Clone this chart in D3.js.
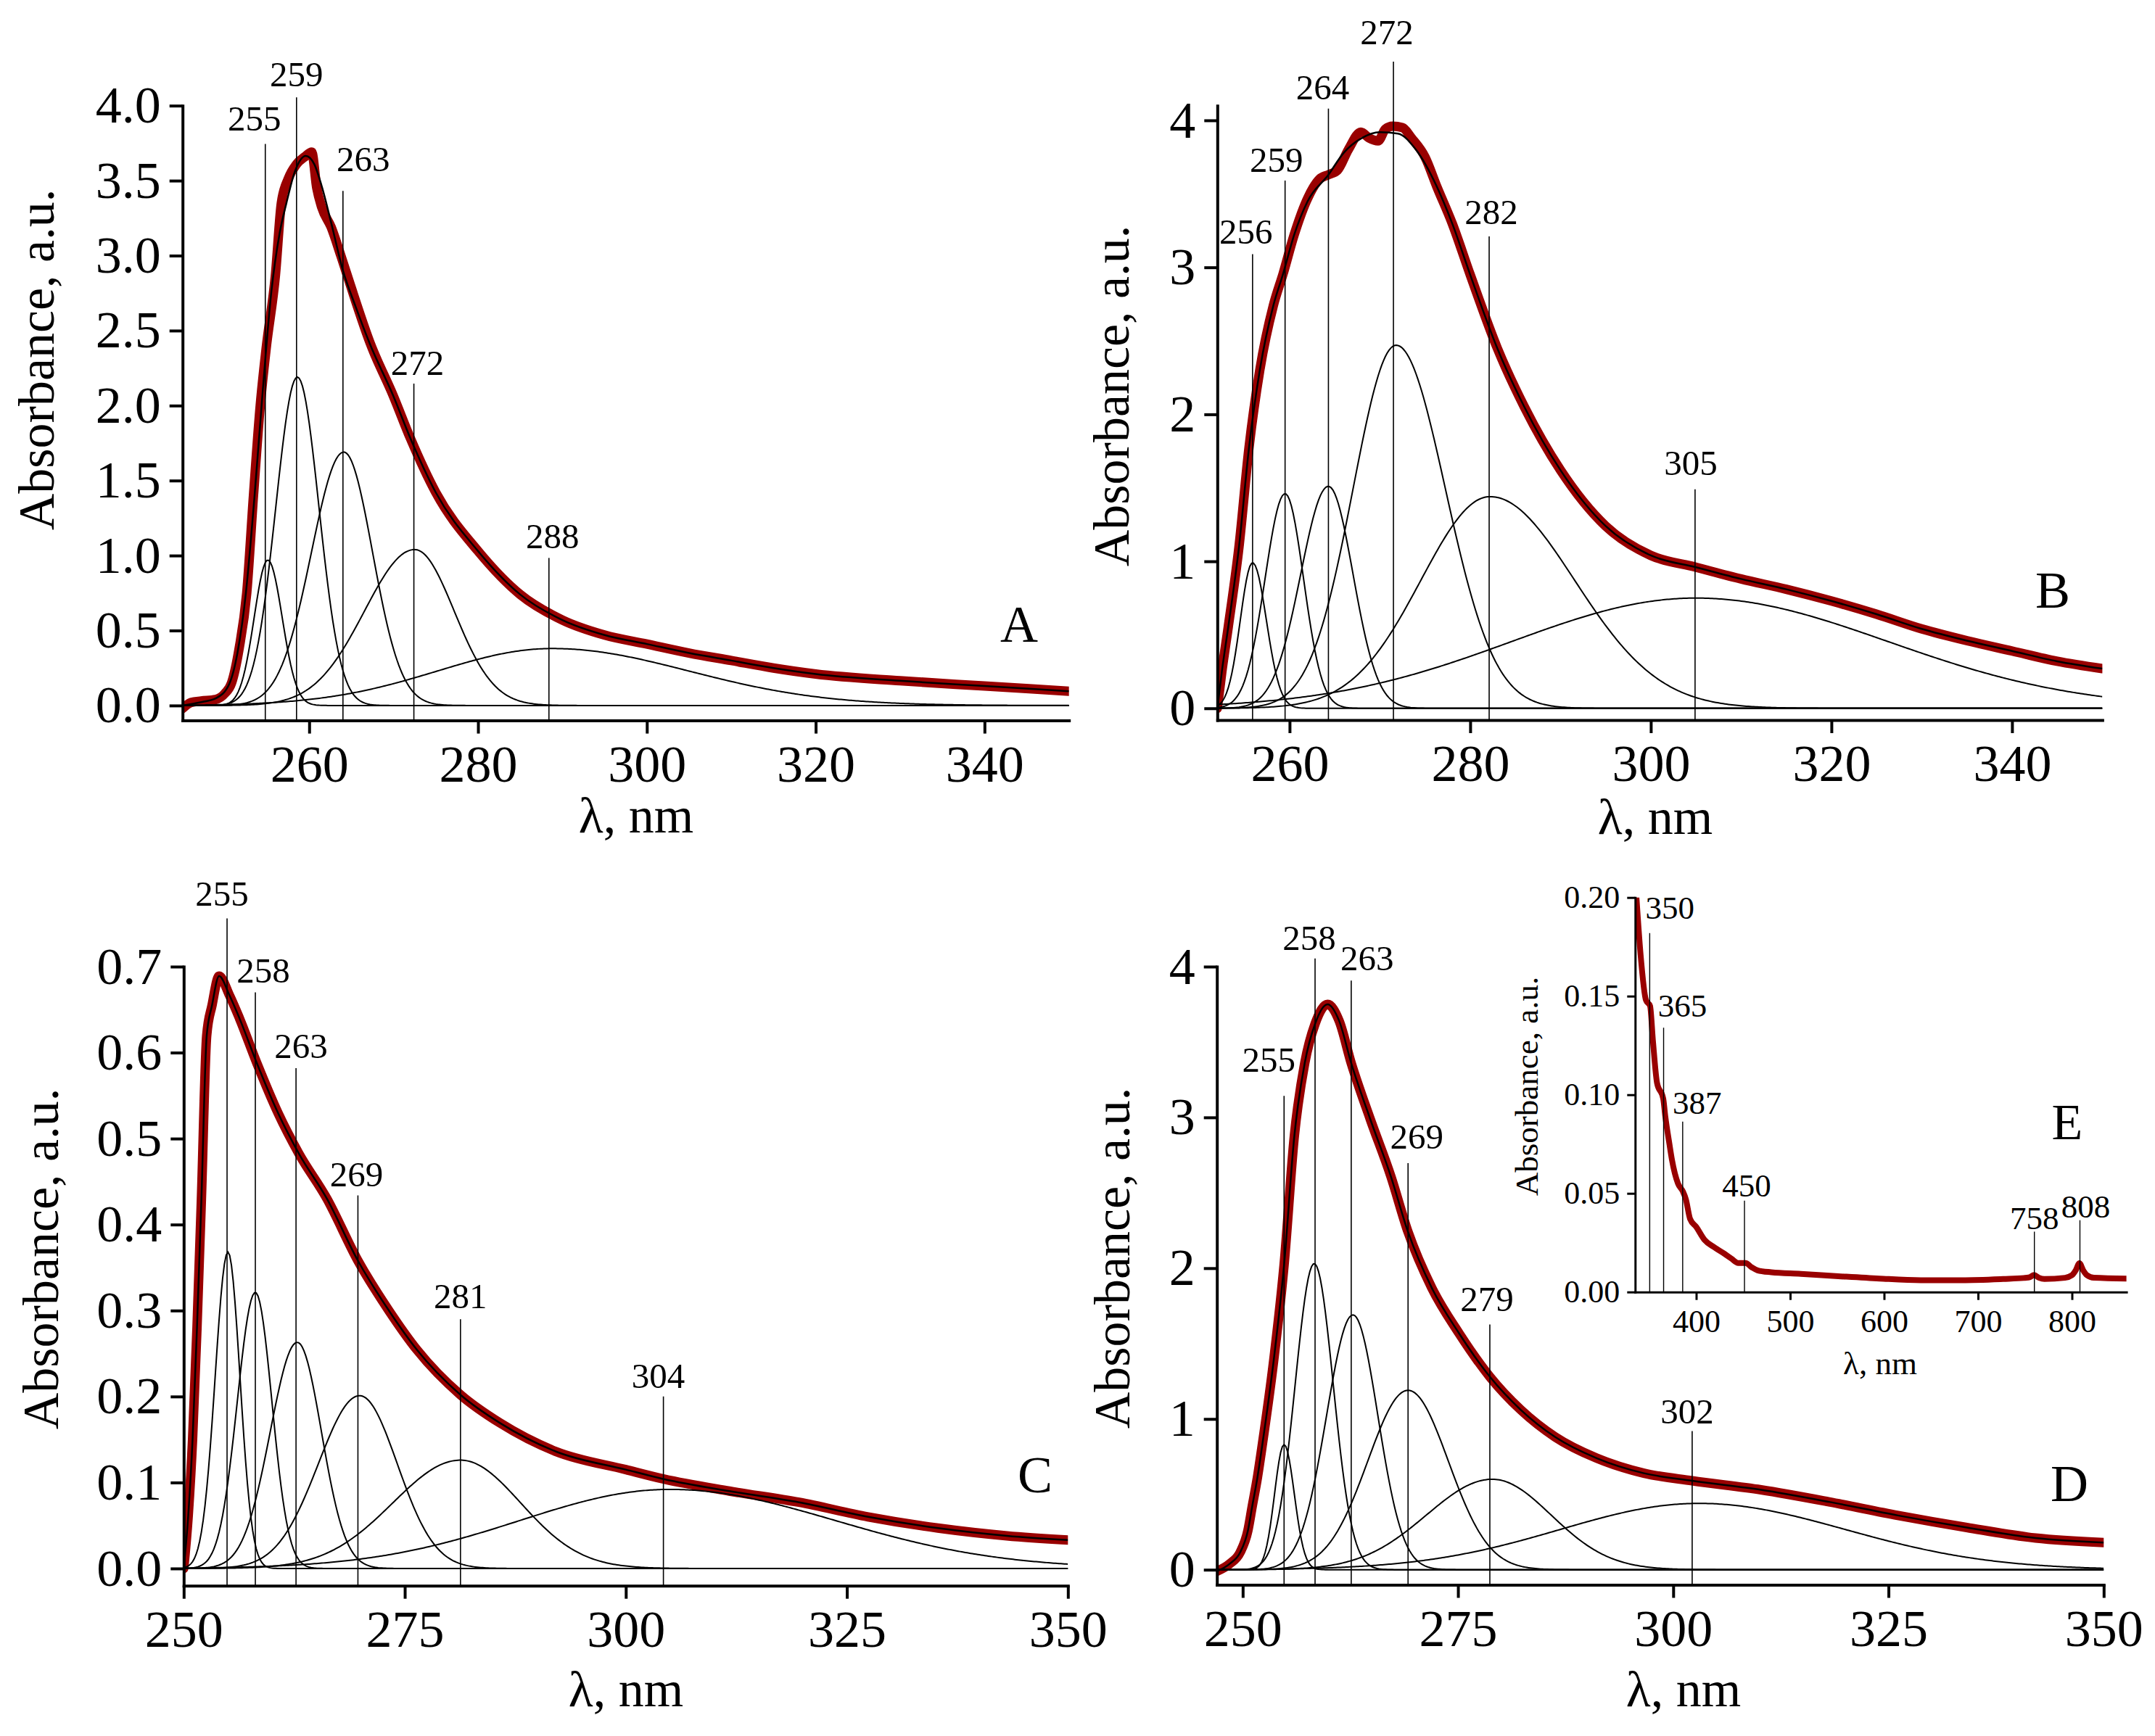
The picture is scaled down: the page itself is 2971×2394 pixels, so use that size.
<!DOCTYPE html>
<html lang="en">
<head>
<meta charset="utf-8">
<title>Absorbance deconvolution</title>
<script src="https://cdn.jsdelivr.net/npm/d3@7"></script>
<style>
  body { margin: 0; background: #fff; }
  svg { display: block; }
</style>
</head>
<body>
<script>

// ---------- data: panel A ----------
var aWl  = [245.0, 246.0, 247.2, 248.9, 250.0, 250.8, 251.7, 252.6, 253.4, 254.2, 254.9, 256.0, 256.7, 257.5, 258.5, 259.5, 260.3, 260.9, 261.5, 262.6, 263.75, 264.9, 267.2, 270, 272, 275, 280, 285, 290, 295, 300, 305, 310, 315, 320, 330, 340, 350];
var aAbs = [-0.02, 0.02, 0.03, 0.04, 0.08, 0.15, 0.38, 0.75, 1.40, 2.00, 2.38, 2.87, 3.35, 3.51, 3.61, 3.66, 3.69, 3.45, 3.32, 3.19, 3.00, 2.80, 2.42, 2.06, 1.78, 1.42, 1.03, 0.74, 0.57, 0.47, 0.41, 0.35, 0.30, 0.25, 0.21, 0.165, 0.13, 0.095];
var aFitWl  = [245, 247, 249, 250.5, 251.5, 252.5, 253.5, 254.5, 255.5, 256.5, 257.3, 258.3, 259.6, 260.6, 261.5, 262.6, 264.0, 265.5, 267.2, 270, 272, 275, 280, 285, 290, 295, 300, 305, 310, 315, 320, 330, 340, 350];
var aFitAbs = [0.0, 0.02, 0.05, 0.14, 0.35, 0.75, 1.38, 2.10, 2.75, 3.15, 3.35, 3.56, 3.665, 3.61, 3.46, 3.22, 2.90, 2.66, 2.41, 2.06, 1.78, 1.42, 1.03, 0.74, 0.57, 0.47, 0.41, 0.35, 0.30, 0.25, 0.21, 0.165, 0.13, 0.095];
// Gaussian bands: centre, height, half width left / right (nm)
var aBandC = [255.1, 258.6, 264.1, 272.5, 288.8];
var aBandH = [0.97, 2.19, 1.69, 1.04, 0.38];
var aBandL = [1.9, 3.0, 4.5, 7.0, 16];
var aBandR = [2.0, 3.0, 4.0, 5.5, 19];
var aPeakWl  = [254.8, 258.5, 264.0, 272.4, 288.4];
var aPeakTop = [3.745, 4.055, 3.431, 2.147, 0.984];
var aPeakLbl = ["255", "259", "263", "272", "288"];

// ---------- data: panel B ----------
var bWl  = [252.0, 252.5, 253.2, 254.4, 255.5, 256.7, 258.2, 259.3, 260.5, 262.0, 263.3, 264.3, 265.3, 266.5, 267.9, 268.8, 269.8, 270.6, 271.4, 272.5, 273.5, 275, 276.3, 278, 280, 283, 286, 290, 295, 300, 305, 310, 315, 320, 325, 330, 335, 340, 345, 350];
var bAbs = [0.0, 0.25, 0.55, 1.10, 1.77, 2.30, 2.74, 2.96, 3.22, 3.47, 3.60, 3.63, 3.66, 3.80, 3.92, 3.88, 3.86, 3.94, 3.96, 3.95, 3.88, 3.75, 3.55, 3.30, 2.95, 2.45, 2.05, 1.62, 1.24, 1.04, 0.96, 0.88, 0.81, 0.73, 0.64, 0.54, 0.46, 0.39, 0.32, 0.27];
var bFitWl  = [252.0, 252.5, 253.2, 254.4, 255.5, 256.7, 258.2, 259.3, 260.5, 262.0, 264.3, 266, 268, 270, 272, 274, 276.3, 278, 280, 283, 286, 290, 295, 300, 305, 310, 315, 320, 325, 330, 335, 340, 345, 350];
var bFitAbs = [0.0, 0.25, 0.55, 1.10, 1.77, 2.30, 2.74, 2.96, 3.22, 3.45, 3.63, 3.78, 3.88, 3.92, 3.91, 3.80, 3.55, 3.30, 2.95, 2.45, 2.05, 1.62, 1.24, 1.04, 0.96, 0.88, 0.81, 0.73, 0.64, 0.54, 0.46, 0.39, 0.32, 0.27];
var bBandC = [255.9, 259.5, 264.3, 271.8, 282.2, 305.0];
var bBandH = [0.99, 1.46, 1.51, 2.47, 1.44, 0.75];
var bBandL = [1.6, 2.6, 3.6, 5.6, 9, 24];
var bBandR = [1.8, 2.4, 3.2, 6.4, 11, 25];
var bPeakWl  = [255.9, 259.5, 264.3, 271.5, 282.1, 304.9];
var bPeakTop = [3.09, 3.59, 4.08, 4.40, 3.21, 1.49];
var bPeakLbl = ["256", "259", "264", "272", "282", "305"];

// ---------- data: panel C ----------
var cWl  = [250.0, 250.5, 251.0, 251.5, 252.0, 252.6, 253.2, 254.0, 255.2, 256.3, 258.3, 260.7, 263.0, 266.2, 269.7, 273.2, 276.4, 281.3, 285.8, 292.1, 300, 304.3, 311.7, 319.6, 327.4, 335.3, 343.1, 350];
var cAbs = [0.0, 0.06, 0.15, 0.28, 0.43, 0.62, 0.655, 0.689, 0.666, 0.64, 0.587, 0.529, 0.483, 0.43, 0.358, 0.30, 0.254, 0.202, 0.169, 0.136, 0.115, 0.104, 0.090, 0.077, 0.060, 0.047, 0.038, 0.033];
var cBandC = [255.0, 258.1, 262.85, 269.9, 281.3, 305.0];
var cBandH = [0.368, 0.321, 0.263, 0.201, 0.126, 0.092];
var cBandL = [1.7, 2.4, 3.6, 5.5, 9, 20];
var cBandR = [1.6, 2.2, 3.2, 5.0, 8, 22];
var cPeakWl  = [254.9, 258.1, 262.7, 269.7, 281.3, 304.25];
var cPeakTop = [0.756, 0.670, 0.582, 0.434, 0.290, 0.200];
var cPeakLbl = ["255", "258", "263", "269", "281", "304"];

// ---------- data: panel D ----------
var dWl  = [247.0, 248.5, 249.7, 250.6, 251.1, 251.7, 252.25, 253.6, 254.8, 256.0, 257.2, 258.4, 259.85, 261.2, 262.6, 264.8, 267.2, 269.2, 271.95, 275.1, 278.7, 282.3, 286.3, 291.1, 296.6, 302.2, 310.2, 318.1, 326.1, 334.1, 342.1, 350];
var dAbs = [-0.01, 0.04, 0.115, 0.26, 0.42, 0.61, 0.82, 1.39, 2.02, 2.88, 3.36, 3.62, 3.75, 3.64, 3.36, 2.99, 2.61, 2.24, 1.87, 1.57, 1.28, 1.06, 0.88, 0.74, 0.64, 0.59, 0.53, 0.45, 0.36, 0.28, 0.21, 0.18];
var dBandC = [254.8, 258.3, 262.8, 269.2, 279.0, 303.0];
var dBandH = [0.83, 2.03, 1.69, 1.19, 0.60, 0.44];
var dBandL = [1.3, 2.6, 3.6, 5.5, 9, 19];
var dBandR = [1.4, 2.6, 3.4, 5.5, 8, 20];
var dPeakWl  = [254.8, 258.4, 262.6, 269.2, 278.7, 302.2];
var dPeakTop = [3.143, 4.054, 3.907, 2.697, 1.627, 0.92];
var dPeakLbl = ["255", "258", "263", "269", "279", "302"];

// ---------- data: inset E ----------
var eWl  = [336.4, 340.8, 346.5, 350.9, 354, 358.3, 364.9, 367.1, 371.5, 374.2, 380.6, 385.8, 389.0, 393.5, 400, 408.9, 419.8, 429.4, 437.3, 444.8, 452.5, 459.2, 465.3, 480, 511.4, 551.4, 595.2, 639.1, 683.0, 726.8, 748.8, 755, 759.7, 765, 770.7, 792.6, 800, 804, 808.0, 812, 816, 823.4, 858.5];
var eAbs = [0.200, 0.171, 0.148, 0.145, 0.127, 0.106, 0.098, 0.089, 0.075, 0.067, 0.055, 0.051, 0.047, 0.037, 0.033, 0.0264, 0.0225, 0.0196, 0.017, 0.0147, 0.0147, 0.0125, 0.011, 0.0100, 0.0092, 0.0080, 0.0068, 0.0060, 0.0060, 0.0066, 0.0071, 0.0075, 0.0086, 0.0072, 0.0066, 0.0072, 0.0085, 0.011, 0.0146, 0.011, 0.0085, 0.0072, 0.0068];
var ePeakWl  = [350.5, 365.3, 385.6, 451.4, 760, 808.5];
var ePeakTop = [0.182, 0.134, 0.0864, 0.0463, 0.0306, 0.0364];
var ePeakLbl = ["350", "365", "387", "450", "758", "808"];

// ---------- tick values ----------
var aXMajor = [260, 280, 300, 320, 340], aXMinor = [250, 270, 290, 310, 330, 350];
var aYMajor = [0, 0.5, 1, 1.5, 2, 2.5, 3, 3.5, 4], aYMinor = [];
var bXMajor = [260, 280, 300, 320, 340], bXMinor = [270, 290, 310, 330, 350];
var bYMajor = [0, 1, 2, 3, 4], bYMinor = [0.5, 1.5, 2.5, 3.5];
var cXMajor = [250, 275, 300, 325, 350], cXMinor = [262.5, 287.5, 312.5, 337.5];
var cYMajor = [0, 0.1, 0.2, 0.3, 0.4, 0.5, 0.6, 0.7], cYMinor = [0.05, 0.15, 0.25, 0.35, 0.45, 0.55, 0.65];
var dXMajor = [250, 275, 300, 325, 350], dXMinor = [262.5, 287.5, 312.5, 337.5];
var dYMajor = [0, 1, 2, 3, 4], dYMinor = [0.5, 1.5, 2.5, 3.5];
var eXMajor = [400, 500, 600, 700, 800], eXMinor = [350, 450, 550, 650, 750, 850];
var eYMajor = [0, 0.05, 0.1, 0.15, 0.2], eYMinor = [0.025, 0.075, 0.125, 0.175];

// ---------- layout ----------
var W = 2971, H = 2394;
var FONT = '"Liberation Serif", "Times New Roman", Times, serif';
var RED = "#990000";

var svg = d3.select("body").append("svg")
    .attr("width", W).attr("height", H)
    .attr("font-family", FONT);
svg.append("rect").attr("width", W).attr("height", H).attr("fill", "#fff");

// label nudges (dx, gap above the marker line) per panel
var panels = [
  { key: "A", px: [251.7, 1473.7], xd: [245, 350], py: [993.6, 145.7], yd: [-0.1, 4.0],
    wl: aWl, ab: aAbs, fwl: aFitWl, fab: aFitAbs,
    band: [aBandC, aBandH, aBandL, aBandR],
    peak: [aPeakWl, aPeakTop, aPeakLbl], nudge: [[-15, 18], [0, 15], [28, 27], [5, 12], [5, 13]],
    xt: [aXMajor, aXMinor], yt: [aYMajor, aYMinor], yfmt: ".1f",
    letter: [1405, 885], ytitle: [74, 496], xtitle: [877, 1148] },
  { key: "B", px: [1678.3, 2898.4], xd: [252, 350], py: [993.0, 145.7], yd: [-0.08, 4.1],
    wl: bWl, ab: bAbs, fwl: bFitWl, fab: bFitAbs,
    band: [bBandC, bBandH, bBandL, bBandR],
    peak: [bPeakWl, bPeakTop, bPeakLbl], nudge: [[-9, 14], [-12, 12], [-8, 13], [-9, 24], [3, 17], [-6, 20]],
    xt: [bXMajor, bXMinor], yt: [bYMajor, bYMinor], yfmt: "d",
    letter: [2830, 838], ytitle: [1556, 546], xtitle: [2282, 1150] },
  { key: "C", px: [253.3, 1472.3], xd: [250, 350], py: [2186.7, 1333], yd: [-0.02, 0.7],
    wl: cWl, ab: cAbs, fwl: cWl, fab: cAbs,
    band: [cBandC, cBandH, cBandL, cBandR],
    peak: [cPeakWl, cPeakTop, cPeakLbl], nudge: [[-7, 18], [11, 14], [7, 14], [-2, 12], [0, 15], [-7, 12]],
    xt: [cXMajor, cXMinor], yt: [cYMajor, cYMinor], yfmt: ".1f",
    letter: [1427, 2058], ytitle: [80, 1736], xtitle: [863, 2353] },
  { key: "D", px: [1677.7, 2900.3], xd: [247, 350], py: [2185.5, 1333], yd: [-0.1, 4.0],
    wl: dWl, ab: dAbs, fwl: dWl, fab: dAbs,
    band: [dBandC, dBandH, dBandL, dBandR],
    peak: [dPeakWl, dPeakTop, dPeakLbl], nudge: [[-21, 33], [-8, 12], [22, 14], [12, 20], [-4, 18], [-7, 10]],
    xt: [dXMajor, dXMinor], yt: [dYMajor, dYMinor], yfmt: "d",
    letter: [2853, 2070], ytitle: [1557, 1735], xtitle: [2321, 2353] }
];

var inset = { key: "E", px: [2254.3, 2931.6], xd: [335, 858], py: [1781.7, 1237.7], yd: [0, 0.2],
    wl: eWl, ab: eAbs,
    peak: [ePeakWl, ePeakTop, ePeakLbl], nudge: [[28, 20], [26, 15], [20, 11], [3, 6], [0, 3], [8, 4]],
    xt: [eXMajor, eXMinor], yt: [eYMajor, eYMinor], yfmt: ".2f",
    letter: [2850, 1571], ytitle: [2120, 1498], xtitle: [2592, 1895] };

function band(c, h, l, r) {
  return function(w) {
    var s = w < c ? l : r;
    var t = (w - c) / s;
    return h * Math.exp(-Math.LN2 * t * t);
  };
}

function drawPanel(p, st) {
  var g = svg.append("g");
  var x = d3.scaleLinear().domain(p.xd).range(p.px);
  var y = d3.scaleLinear().domain(p.yd).range(p.py);
  var smooth = d3.line().x(function(d) { return x(d[0]); }).y(function(d) { return y(d[1]); }).curve(d3.curveMonotoneX);
  var straight = d3.line().x(function(d) { return x(d[0]); }).y(function(d) { return y(d[1]); });

  var cid = "clip" + p.key;
  svg.append("clipPath").attr("id", cid).append("rect")
      .attr("x", p.px[0]).attr("y", p.py[1])
      .attr("width", p.px[1] - p.px[0]).attr("height", p.py[0] - p.py[1]);
  var plot = g.append("g").attr("clip-path", "url(#" + cid + ")");

  // measured spectrum
  plot.append("path")
      .datum(d3.zip(p.wl, p.ab))
      .attr("d", smooth)
      .attr("fill", "none")
      .attr("stroke", RED)
      .attr("stroke-width", st.red)
      .attr("stroke-linejoin", "round")
      .attr("stroke-linecap", "round");

  // deconvolution bands
  if (p.band) {
    var grid = d3.range(p.xd[0], p.xd[1] + 0.01, 0.2);
    p.band[0].forEach(function(c, i) {
      var f = band(c, p.band[1][i], p.band[2][i], p.band[3][i]);
      plot.append("path")
          .datum(grid.map(function(w) { return [w, f(w)]; }))
          .attr("d", straight)
          .attr("fill", "none")
          .attr("stroke", "#000")
          .attr("stroke-width", 2);
    });
  }

  // peak marker lines
  p.peak[0].forEach(function(w, i) {
    g.append("line")
        .attr("x1", x(w)).attr("x2", x(w))
        .attr("y1", y(p.peak[1][i])).attr("y2", p.py[0])
        .attr("stroke", "#000")
        .attr("stroke-width", st.peakW);
    g.append("text")
        .attr("x", x(w) + p.nudge[i][0])
        .attr("y", y(p.peak[1][i]) - p.nudge[i][1])
        .attr("text-anchor", "middle")
        .attr("font-size", st.peakFont)
        .text(p.peak[2][i]);
  });

  // fitted envelope
  if (p.fwl) {
    plot.append("path")
        .datum(d3.zip(p.fwl, p.fab))
        .attr("d", smooth)
        .attr("fill", "none")
        .attr("stroke", "#000")
        .attr("stroke-width", 2.5);
  }

  // axes
  var xa = g.append("g").attr("transform", "translate(0," + p.py[0] + ")");
  xa.call(d3.axisBottom(x).tickValues(p.xt[1]).tickSize(st.minor).tickSizeOuter(0).tickFormat(""));
  xa.call(d3.axisBottom(x).tickValues(p.xt[0]).tickSize(st.major).tickSizeOuter(0)
      .tickPadding(st.xpad).tickFormat(d3.format("d")));
  var ya = g.append("g").attr("transform", "translate(" + p.px[0] + ",0)");
  ya.call(d3.axisLeft(y).tickValues(p.yt[1]).tickSize(st.minor).tickSizeOuter(0).tickFormat(""));
  ya.call(d3.axisLeft(y).tickValues(p.yt[0]).tickSize(st.major).tickSizeOuter(0)
      .tickPadding(st.ypad).tickFormat(d3.format(p.yfmt)));

  [xa, ya].forEach(function(a) {
    a.attr("font-family", FONT).attr("font-size", st.tickFont);
    a.selectAll(".domain").attr("stroke", "#000").attr("stroke-width", st.axisW).attr("stroke-linecap", "square");
    a.selectAll(".tick line").attr("stroke", "#000").attr("stroke-width", st.axisW);
    a.selectAll(".tick text").attr("fill", "#000");
  });

  // titles
  g.append("text")
      .attr("transform", "translate(" + p.ytitle[0] + "," + p.ytitle[1] + ") rotate(-90)")
      .attr("text-anchor", "middle")
      .attr("font-size", st.titleFont)
      .text("Absorbance, a.u.");
  g.append("text")
      .attr("x", p.xtitle[0]).attr("y", p.xtitle[1])
      .attr("text-anchor", "middle")
      .attr("font-size", st.titleFont)
      .text("\u03bb, nm");
  g.append("text")
      .attr("x", p.letter[0]).attr("y", p.letter[1])
      .attr("text-anchor", "middle")
      .attr("font-size", st.letterFont)
      .text(p.key);
}

var bigStyle = { red: 13, peakW: 1.6, peakFont: 49, tickFont: 72, titleFont: 70, letterFont: 72,
                 major: 18, minor: 10, xpad: 15, ypad: 12, axisW: 4 };
var smallStyle = { red: 8, peakW: 1.4, peakFont: 45, tickFont: 44, titleFont: 45, letterFont: 70,
                   major: 11, minor: 6, xpad: 13, ypad: 10, axisW: 3 };

panels.forEach(function(p) { drawPanel(p, bigStyle); });
drawPanel(inset, smallStyle);

</script>
</body>
</html>
